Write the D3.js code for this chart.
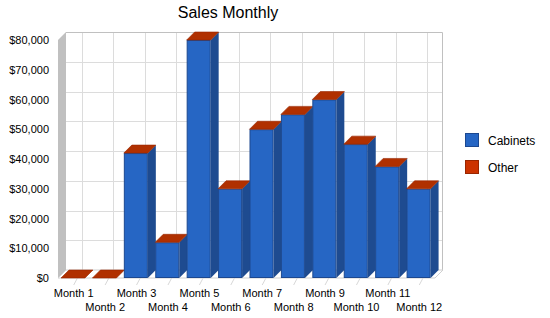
<!DOCTYPE html>
<html>
<head>
<meta charset="utf-8">
<script src="https://cdn.jsdelivr.net/npm/d3@7"></script>
<style>
    body { margin: 0; background: #fff; }
    svg { display: block; font-family: "Liberation Sans", Arial, sans-serif; }
</style>
</head>
<body>
<div id="chart"></div>
<script>
const months = ['Month 1', 'Month 2', 'Month 3', 'Month 4', 'Month 5', 'Month 6',
    'Month 7', 'Month 8', 'Month 9', 'Month 10', 'Month 11', 'Month 12']
const cabinets = [0, 0, 42000, 12000, 80000, 30000, 50000, 55000, 60000, 45000, 37500, 30000]
const other = [0, 0, 0, 0, 0, 0, 0, 0, 0, 0, 0, 0]
const yTicks = [0, 10000, 20000, 30000, 40000, 50000, 60000, 70000, 80000]
const seriesNames = ['Cabinets', 'Other']

const width = 550, height = 318
const depth = 8
const barOffset = 3, barW = 24
const blue = '#2666c4', blueSide = '#1e4b90', blueEdge = '#1c4890'
const red = '#cc3300', redTop = '#b03000', redEdge = '#992600'

const svg = d3.select('#chart').append('svg')
    .attr('width', width)
    .attr('height', height)

const x = d3.scaleBand().domain(months).range([58, 435])
const y = d3.scaleLinear().domain([0, 80000]).range([278, 40])

const x0 = x.range()[0], x1 = x.range()[1]
const yBase = y(0), yTop = y(80000)

// title
svg.append('text')
    .attr('x', 228).attr('y', 18)
    .attr('text-anchor', 'middle')
    .attr('font-size', 16)
    .text('Sales Monthly')

// back wall
svg.append('rect')
    .attr('x', x0 + depth).attr('y', yTop - depth)
    .attr('width', x1 - x0).attr('height', yBase - yTop)
    .attr('fill', '#fff')

const grid = svg.append('g').attr('stroke', '#dcdcdc').attr('stroke-width', 1)
grid.selectAll('line.h')
    .data(yTicks.slice(1, -1))
    .join('line')
    .attr('x1', x0 + depth).attr('x2', x1 + depth)
    .attr('y1', d => Math.round(y(d) - depth) + 0.5)
    .attr('y2', d => Math.round(y(d) - depth) + 0.5)

grid.selectAll('line.v')
    .data(months)
    .join('line')
    .attr('x1', d => Math.round(x(d) + x.bandwidth() / 2 + depth) + 0.5)
    .attr('x2', d => Math.round(x(d) + x.bandwidth() / 2 + depth) + 0.5)
    .attr('y1', yTop - depth).attr('y2', yBase - depth)

// back wall border (top and right)
svg.append('path')
    .attr('d', `M${x0 + depth},${yTop - depth + 0.5} H${x1 + depth - 0.5} V${yBase - depth}`)
    .attr('fill', 'none').attr('stroke', '#c0c0c0')

// left wall
svg.append('path')
    .attr('d', `M${x0},${yTop} L${x0 + depth},${yTop - depth} V${yBase - depth} L${x0},${yBase} Z`)
    .attr('fill', '#c0c0c0')

// floor
svg.append('path')
    .attr('d', `M${x0},${yBase} L${x0 + depth},${yBase - depth} H${x1 + depth} L${x1},${yBase} Z`)
    .attr('fill', '#fff')
    .attr('stroke', '#d0d0d0')

svg.append('g').attr('stroke', '#d8d8d8')
    .selectAll('line')
    .data(months)
    .join('line')
    .attr('x1', d => x(d) + x.bandwidth() / 2 + depth)
    .attr('y1', yBase - depth)
    .attr('x2', d => x(d) + x.bandwidth() / 2)
    .attr('y2', yBase + 7)

// bars (stacked: cabinets, then other on top)
const bars = svg.append('g')
months.forEach((m, i) => {
    const bx = x(m) + barOffset
    const yc = y(cabinets[i])
    const yo = y(cabinets[i] + other[i])
    const g = bars.append('g')

    if (cabinets[i] > 0) {
        g.append('rect')
            .attr('x', bx + 0.5).attr('y', yc + 0.5)
            .attr('width', barW - 1).attr('height', yBase - yc - 1)
            .attr('fill', blue).attr('stroke', blueEdge)
        g.append('path')
            .attr('d', `M${bx + barW},${yc} L${bx + barW + depth},${yc - depth} V${yBase - depth} L${bx + barW},${yBase} Z`)
            .attr('fill', blueSide)
    }
    if (other[i] > 0) {
        g.append('rect')
            .attr('x', bx + 0.5).attr('y', yo + 0.5)
            .attr('width', barW - 1).attr('height', yc - yo - 1)
            .attr('fill', red).attr('stroke', redEdge)
    }
    // top face in the colour of the top series
    g.append('path')
        .attr('d', `M${bx},${yo} L${bx + depth},${yo - depth} H${bx + barW + depth} L${bx + barW},${yo} Z`)
        .attr('fill', redTop).attr('stroke', redEdge).attr('stroke-width', 0.6)
})

// y axis labels
svg.append('g')
    .selectAll('text')
    .data(yTicks)
    .join('text')
    .attr('x', 49)
    .attr('y', d => y(d) + 4)
    .attr('text-anchor', 'end')
    .attr('font-size', 11)
    .text(d => '$' + d3.format(',')(d))

// x axis labels, alternating rows
svg.append('g')
    .selectAll('text')
    .data(months)
    .join('text')
    .attr('x', d => x(d) + x.bandwidth() / 2)
    .attr('y', (d, i) => i % 2 === 0 ? 297 : 311)
    .attr('text-anchor', 'middle')
    .attr('font-size', 11)
    .text(d => d)

// legend
const legend = svg.append('g')
const legendColors = [[blue, blueEdge], [red, redEdge]]
seriesNames.forEach((name, i) => {
    legend.append('rect')
        .attr('x', 465.5).attr('y', 133.5 + i * 27)
        .attr('width', 13).attr('height', 13)
        .attr('fill', legendColors[i][0]).attr('stroke', legendColors[i][1])
    legend.append('text')
        .attr('x', 488).attr('y', 145 + i * 27)
        .attr('font-size', 12)
        .text(name)
})
</script>
</body>
</html>
